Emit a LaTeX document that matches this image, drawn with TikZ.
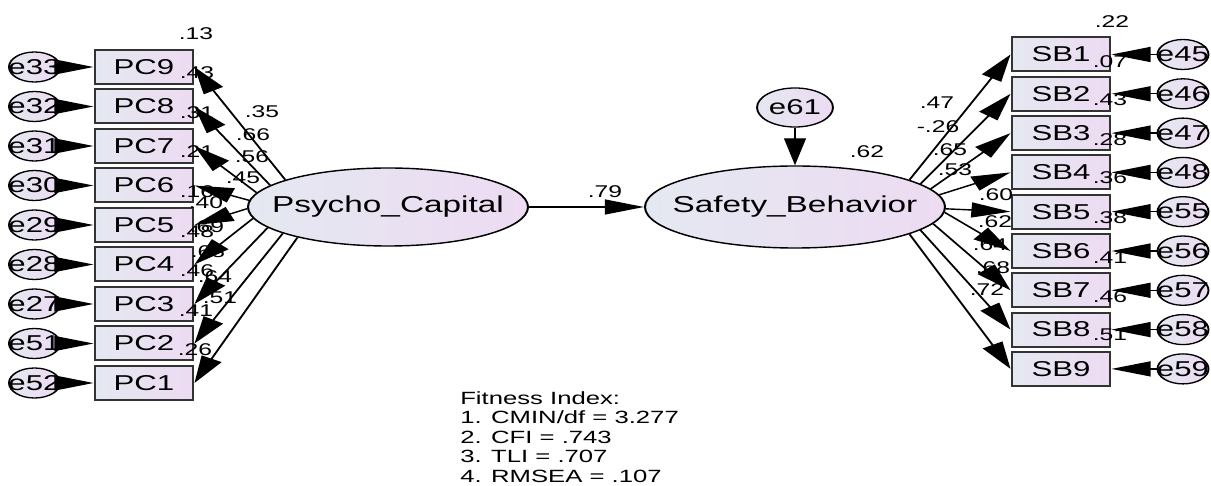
\documentclass[tikz,border=0pt]{standalone}
\usepackage{fontspec}
\setmainfont{Liberation Sans}
\usetikzlibrary{arrows.meta,shapes.geometric}
\definecolor{amosL}{RGB}{228,232,241}
\definecolor{amosR}{RGB}{237,219,242}
\begin{document}
\begin{tikzpicture}
\fill[white] (0pt,0pt) rectangle (1211pt,-486pt);
\begin{scope}[transform canvas={xscale=1.45}, x=0.689655pt, y=-1pt,
  obs/.style={draw=black!80, line width=2pt, left color=amosL, right color=amosR,
    minimum width=67.6pt, minimum height=34pt, inner sep=0pt,
    font=\fontsize{21.5}{24}\selectfont},
  lat/.style={ellipse, draw, line width=1.4pt, left color=amosL, right color=amosR,
    inner sep=0pt, font=\fontsize{23}{26}\selectfont},
  err/.style={ellipse, draw, line width=1.3pt, left color=amosL, right color=amosR,
    minimum width=35.2pt, minimum height=30pt, inner sep=0pt,
    font=\fontsize{21.5}{24}\selectfont},
  lbl/.style={inner sep=0pt, font=\fontsize{17}{20}\selectfont},
  arr/.style={-{Triangle[length=27pt,width=15pt]}, line width=1.4pt}]

% observed variables and their errors
\foreach \n/\e [count=\k from 0] in {9/33,8/32,7/31,6/30,5/29,4/28,3/27,2/51,1/52}{
  \node[obs] (PC\n) at (144,{67+39.5*\k}) {PC\n};
  \node[err] (e\e) at (34.5,{67+39.5*\k}) {\makebox[0pt]{e\e}};
}
\foreach \n/\e [count=\k from 0] in {1/45,2/46,3/47,4/48,5/55,6/56,7/57,8/58,9/59}{
  \node[obs] (SB\n) at (1061,{54.5+39.3*\k}) {SB\n};
  \node[err] (e\e) at (1183,{54.5+39.3*\k}) {\makebox[0pt]{e\e}};
}

% latent variables
\node[lat, minimum width=193.1pt, minimum height=78pt] (PSY) at (388,207) {\makebox[0pt]{Psycho\_Capital}};
\node[lat, minimum width=206.9pt, minimum height=82pt] (SAF) at (795,207) {\makebox[0pt]{Safety\_Behavior}};
\node[err, minimum width=52.4pt, minimum height=39pt] (e61) at (795,107.5) {\makebox[0pt]{e61}};

% labels left
\node[lbl] (r13) at (196,34) {.13};
\node[lbl] (r43) at (197,73) {.43};
\node[lbl] (r31) at (197,113) {.31};
\node[lbl] (r21) at (197,152) {.21};
\node[lbl] (r16) at (197,192) {.16};
\node[lbl] (r48) at (197,232) {.48};
\node[lbl] (r46) at (197,271) {.46};
\node[lbl] (r41) at (196,311) {.41};
\node[lbl] (r26) at (195,350) {.26};
\node[lbl] (l35) at (262,112) {.35};
\node[lbl] (l66) at (253,135) {.66};
\node[lbl] (l56) at (252,157) {.56};
\node[lbl] (l45) at (243,178) {.45};
\node[lbl] (l40) at (206,203) {.40};
\node[lbl] (l69) at (207,227) {.69};
\node[lbl] (l68) at (208,252) {.68};
\node[lbl] (l64) at (215,277) {.64};
\node[lbl] (l51) at (220,298) {.51};
% labels right
\node[lbl] (s22) at (1112,22) {.22};
\node[lbl] (s07) at (1110,62) {.07};
\node[lbl] (s43) at (1110,100) {.43};
\node[lbl] (s28) at (1110,140) {.28};
\node[lbl] (s36) at (1110,178) {.36};
\node[lbl] (s38) at (1110,218) {.38};
\node[lbl] (s41) at (1110,258) {.41};
\node[lbl] (s46) at (1110,297) {.46};
\node[lbl] (s51) at (1110,335) {.51};
\node[lbl] (m47) at (937,103) {.47};
\node[lbl] (m26) at (938,127) {-.26};
\node[lbl] (m65) at (950,150) {.65};
\node[lbl] (m53) at (955,170) {.53};
\node[lbl] (m60) at (996,195) {.60};
\node[lbl] (m62) at (995,222) {.62};
\node[lbl] (m64) at (990,245) {.64};
\node[lbl] (m68) at (993,268) {.68};
\node[lbl] (m72) at (987,290) {.72};
\node[lbl] (saf62) at (867,152) {.62};
\node[lbl] (p79) at (605,192) {.79};

\node[inner sep=0pt, anchor=north west, align=left, font=\fontsize{17.7}{19.5}\selectfont]
  (fit) at (460,391) {Fitness Index:\\1. CMIN/df = 3.277\\2. CFI = .743\\3. TLI = .707\\4. RMSEA = .107};

% arrows
\foreach \e/\n in {33/9,32/8,31/7,30/6,29/5,28/4,27/3,51/2,52/1}{
  \draw[arr] (e\e.east) -- (PC\n.west);
}
\foreach \e/\n in {45/1,46/2,47/3,48/4,55/5,56/6,57/7,58/8,59/9}{
  \draw[arr] (e\e.west) -- (SB\n.east);
}
\foreach \a/\n in {159.9/9,165.9/8,171.2/7,176.4/6,181.8/5,187.3/4,194/3,200.4/2,206.4/1}{
  \draw[arr] (PSY.\a) -- (PC\n.east);
}
\foreach \a/\n in {19/1,15.6/2,11.7/3,7.3/4,-1/5,-3.9/6,-10.2/7,-15.3/8,-19.8/9}{
  \draw[arr] (SAF.\a) -- (SB\n.west);
}
\draw[arr] (PSY.east) -- (SAF.west);
\draw[arr] (e61.south) -- (SAF.north);
\end{scope}
\pgfresetboundingbox
\useasboundingbox (0pt,0pt) rectangle (1211pt,-486pt);
\end{tikzpicture}
\end{document}
